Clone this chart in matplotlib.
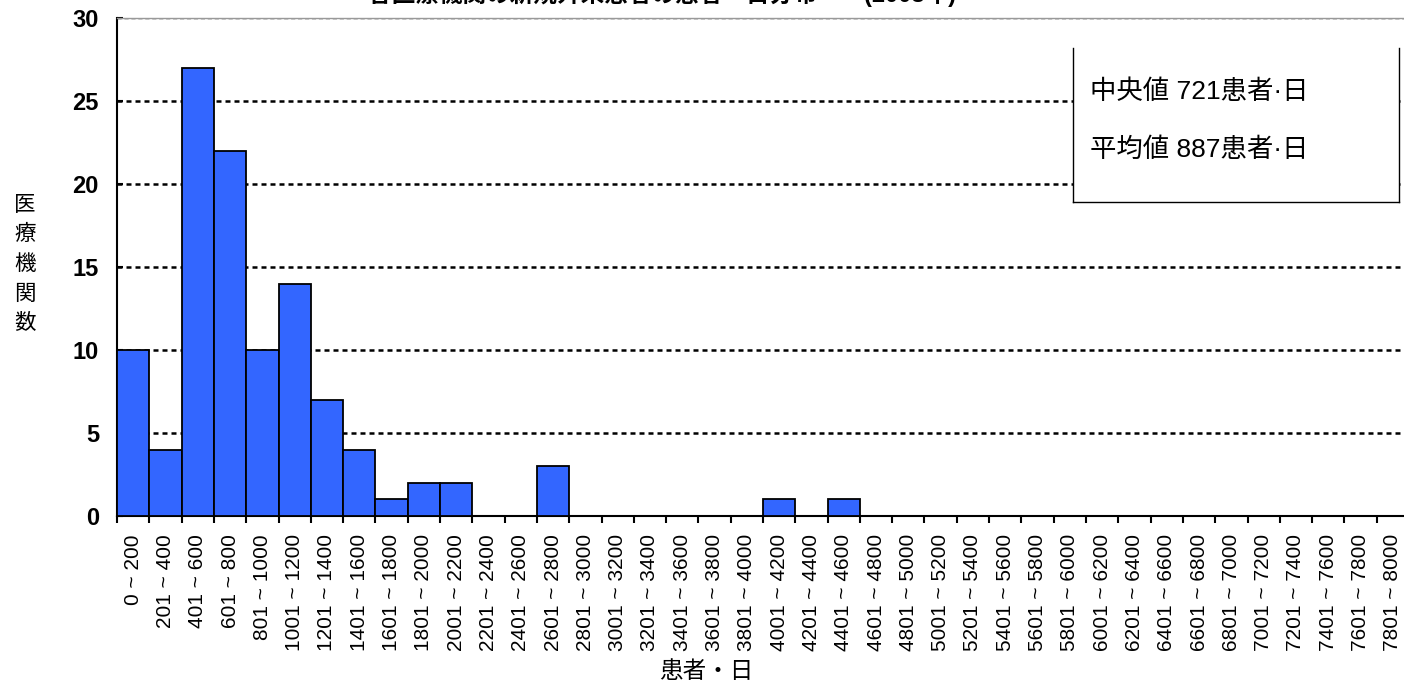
import matplotlib
matplotlib.use("Agg")
import matplotlib.pyplot as plt
from matplotlib.patches import Rectangle
from matplotlib.lines import Line2D

# 患者・日の階級（200刻み）と医療機関数
bin_upper = list(range(200, 8001, 200))
bin_lower = [0] + [u - 199 for u in bin_upper[1:]]
labels = [f"{lo} ~ {hi}" for lo, hi in zip(bin_lower, bin_upper)]
counts = [10, 4, 27, 22, 10, 14, 7, 4, 1, 2,
          2, 0, 0, 3, 0, 0, 0, 0, 0, 0,
          1, 0, 1, 0, 0, 0, 0, 0, 0, 0,
          0, 0, 0, 0, 0, 0, 0, 0, 0, 0]
median_val = 721
mean_val = 887

title = "各医療機関の新規外来患者の患者・日分布　　(2008年)"
jp = ["Noto Sans CJK JP", "DejaVu Sans"]
latin_jp = ["Liberation Sans", "Noto Sans CJK JP", "DejaVu Sans"]

fig = plt.figure(figsize=(14.04, 6.86), dpi=100)
ax = fig.add_axes([117 / 1404, 1 - 516 / 686, 1292 / 1404, 498 / 686])

n = len(counts)
ax.bar(range(n), counts, width=1.0, align="edge", color="#3366FF",
       edgecolor="black", linewidth=1.3, zorder=3)

ax.set_xlim(0, n)
ax.set_ylim(0, 30)

# 点線の目盛線
for yv in [5, 10, 15, 20, 25]:
    ax.axhline(yv, color="black", linewidth=1.8, linestyle=(0, (2, 1.6)), zorder=1)
ax.axhline(30, color="black", linewidth=1.0, linestyle=(0, (3, 2)), zorder=1)

ax.spines["right"].set_visible(False)
ax.spines["top"].set_color("#999999")
ax.spines["top"].set_linewidth(1.0)
ax.spines["left"].set_linewidth(1.5)
ax.spines["bottom"].set_linewidth(1.5)

ax.set_yticks(range(0, 31, 5))
ax.set_yticklabels([str(v) for v in range(0, 31, 5)],
                   fontfamily="Liberation Sans", fontweight="bold", fontsize=17)
ax.tick_params(axis="y", direction="in", length=4, width=1.5, pad=13)

ax.set_xticks(range(0, n + 1))
ax.set_xticklabels([])
ax.tick_params(axis="x", which="major", direction="out", length=5, width=1.5)
ax.set_xticks([i + 0.5 for i in range(n)], minor=True)
ax.set_xticklabels(labels, minor=True, rotation=90, fontfamily="Liberation Sans",
                   fontsize=15, va="top", ha="center")
ax.tick_params(axis="x", which="minor", length=0, pad=13)

# 中央値・平均値の枠
bx0, bx1, by0, by1 = 0.740, 0.992, 0.6305, 0.94
ax.add_patch(Rectangle((bx0, by0), bx1 - bx0, by1 - by0, transform=ax.transAxes,
                       facecolor="white", edgecolor="none", zorder=4, clip_on=False))
for xs, ys in [([bx0, bx0], [by0, by1]), ([bx1, bx1], [by0, by1]), ([bx0, bx1], [by0, by0])]:
    ax.add_line(Line2D(xs, ys, transform=ax.transAxes, color="black",
                       linewidth=1.0, zorder=5, clip_on=False))
ax.text(0.753, 0.851, f"中央値 {median_val}患者·日", transform=ax.transAxes,
        fontfamily=latin_jp, fontsize=19, va="center", ha="left", zorder=6)
ax.text(0.753, 0.735, f"平均値 {mean_val}患者·日", transform=ax.transAxes,
        fontfamily=latin_jp, fontsize=19, va="center", ha="left", zorder=6)

fig.text(25 / 1404, 1 - 264 / 686, "医\n療\n機\n関\n数", fontfamily=jp, fontsize=15.5,
         ha="center", va="center", linespacing=1.45)
fig.text(706 / 1404, 1 - 671 / 686, "患者・日", fontfamily=jp, fontsize=17,
         ha="center", va="center")
fig.text(662 / 1404, 1 - 2 / 686, title, fontfamily=latin_jp, fontsize=17,
         fontweight="bold", ha="center", va="baseline")

fig.savefig("out.png", dpi=100)
